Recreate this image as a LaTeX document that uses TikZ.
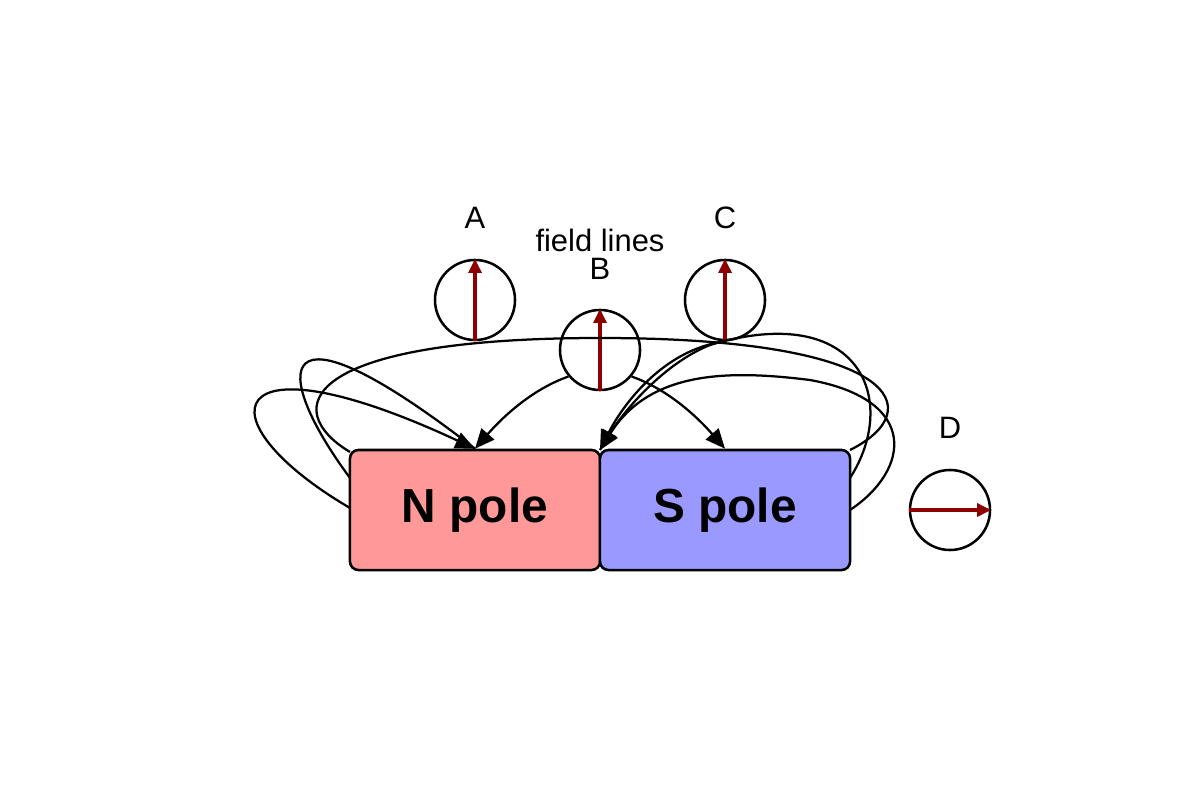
\documentclass[tikz,border=0pt]{standalone}
\usepackage{fontspec}
\setmainfont{Liberation Sans}
\usetikzlibrary{arrows.meta,positioning}
\tikzset{
  pole/.style={draw, line width=1.8pt, rounded corners=6pt, minimum width=6.25cm, minimum height=3cm, font=\fontsize{34}{40}\selectfont\bfseries},
  compass/.style={draw, circle, line width=1.8pt, minimum size=2cm, inner sep=0pt},
  needle/.style={line width=3pt, draw=red!55!black, -{Triangle[length=10pt,width=9pt]}},
  field/.style={line width=1.6pt, black},
  tip/.style={-{Triangle[length=14pt,width=12pt]}},
  lbl/.style={font=\fontsize{22}{26}\selectfont}
}
\begin{document}
\begin{tikzpicture}[x=0.025cm, y=-0.025cm]
\useasboundingbox (0,0) rectangle (1200,800);
% magnet halves
\node[pole, fill=red!40] (N) at (475,510) {N pole};
\node[pole, fill=blue!40] (S) at (725,510) {S pole};
% compasses
\node[compass] (A) at (475,300) {};
\node[compass] (B) at (600,350) {};
\node[compass] (C) at (725,300) {};
\node[compass] (D) at (950,510) {};
\node[lbl] (la) at (475,218) {A};
\node[lbl] (lb) at (600,269) {B};
\node[lbl] (lc) at (725,218) {C};
\node[lbl] (ld) at (950,428) {D};
\node[lbl] (fl) at (600,240) {field lines};
% needles
\draw[needle] (A.south) -- (A.north);
\draw[needle] (B.south) -- (B.north);
\draw[needle] (C.south) -- (C.north);
\draw[needle] (D.west) -- (D.east);
% field lines
\coordinate (nl1) at (350,508);
\coordinate (nl2) at (350,478);
\coordinate (nl3) at (350,452);
\coordinate (sr1) at (850,510);
\coordinate (sr2) at (850,478);
\coordinate (sr3) at (850,450);
\coordinate (mid) at (600,450);
\draw[field, tip] (nl1) .. controls (200,420) and (220,330) .. (N.north);
\draw[field] (nl2) .. controls (270,370) and (270,290) .. (N.north);
\draw[field] (nl3) .. controls (280,410) and (300,338) .. (600,338) .. controls (900,338) and (930,410) .. (sr3);
\draw[field, tip] (B.220) .. controls (530,390) and (500,420) .. (N.north);
\draw[field, tip] (B.-40) .. controls (670,390) and (700,420) .. (S.north);
\draw[field, tip] (C.south) .. controls (660,350) and (620,410) .. (mid);
\draw[field] (sr2) .. controls (900,400) and (860,300) .. (710,345) .. controls (660,365) and (615,420) .. (mid);
\draw[field, {Triangle[length=14pt,width=12pt]}-] (mid) .. controls (650,370) and (730,370) .. (810,380) .. controls (920,400) and (910,470) .. (sr1);
\end{tikzpicture}
\end{document}
